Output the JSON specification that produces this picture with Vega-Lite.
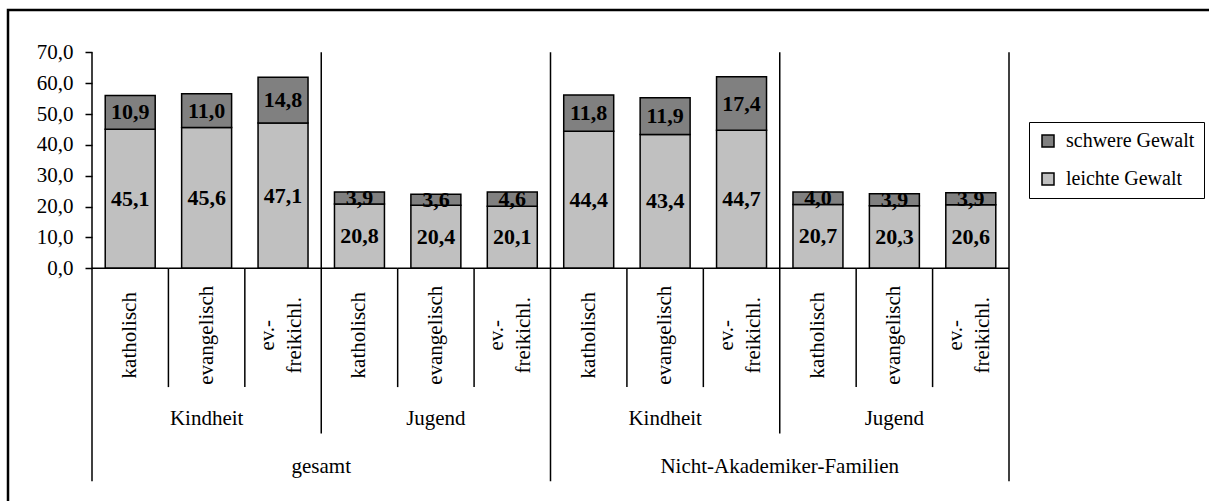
{
  "$schema": "https://vega.github.io/schema/vega-lite/v6.json",
  "width": 1203,
  "height": 493,
  "autosize": {"type": "none"},
  "padding": {"left": 8, "top": 10, "right": -2, "bottom": -2},
  "background": "white",
  "config": {
    "locale": {"number": {"decimal": ",", "thousands": ".", "grouping": [3], "currency": ["", " €"]}},
    "view": {"stroke": "black", "strokeWidth": 2.5},
    "font": "Liberation Serif",
    "text": {"font": "Liberation Serif", "color": "black"}
  },
  "datasets": {
    "bars": [
      {"cat": "1", "type": "leichte Gewalt", "value": 45.1},
      {"cat": "1", "type": "schwere Gewalt", "value": 10.9},
      {"cat": "2", "type": "leichte Gewalt", "value": 45.6},
      {"cat": "2", "type": "schwere Gewalt", "value": 11.0},
      {"cat": "3", "type": "leichte Gewalt", "value": 47.1},
      {"cat": "3", "type": "schwere Gewalt", "value": 14.8},
      {"cat": "4", "type": "leichte Gewalt", "value": 20.8},
      {"cat": "4", "type": "schwere Gewalt", "value": 3.9},
      {"cat": "5", "type": "leichte Gewalt", "value": 20.4},
      {"cat": "5", "type": "schwere Gewalt", "value": 3.6},
      {"cat": "6", "type": "leichte Gewalt", "value": 20.1},
      {"cat": "6", "type": "schwere Gewalt", "value": 4.6},
      {"cat": "7", "type": "leichte Gewalt", "value": 44.4},
      {"cat": "7", "type": "schwere Gewalt", "value": 11.8},
      {"cat": "8", "type": "leichte Gewalt", "value": 43.4},
      {"cat": "8", "type": "schwere Gewalt", "value": 11.9},
      {"cat": "9", "type": "leichte Gewalt", "value": 44.7},
      {"cat": "9", "type": "schwere Gewalt", "value": 17.4},
      {"cat": "10", "type": "leichte Gewalt", "value": 20.7},
      {"cat": "10", "type": "schwere Gewalt", "value": 4.0},
      {"cat": "11", "type": "leichte Gewalt", "value": 20.3},
      {"cat": "11", "type": "schwere Gewalt", "value": 3.9},
      {"cat": "12", "type": "leichte Gewalt", "value": 20.6},
      {"cat": "12", "type": "schwere Gewalt", "value": 3.9}
    ],
    "cats1": [
      {"cat": "1", "label": "katholisch"},
      {"cat": "2", "label": "evangelisch"},
      {"cat": "4", "label": "katholisch"},
      {"cat": "5", "label": "evangelisch"},
      {"cat": "7", "label": "katholisch"},
      {"cat": "8", "label": "evangelisch"},
      {"cat": "10", "label": "katholisch"},
      {"cat": "11", "label": "evangelisch"}
    ],
    "cats2": [
      {"cat": "3", "label": "ev.-\nfreikichl."},
      {"cat": "6", "label": "ev.-\nfreikichl."},
      {"cat": "9", "label": "ev.-\nfreikichl."},
      {"cat": "12", "label": "ev.-\nfreikichl."}
    ],
    "allcats": [
      {"cat": "1"},{"cat": "2"},{"cat": "3"},{"cat": "4"},{"cat": "5"},{"cat": "6"},
      {"cat": "7"},{"cat": "8"},{"cat": "9"},{"cat": "10"},{"cat": "11"},{"cat": "12"}
    ]
  },
  "layer": [
    {
      "data": {"name": "bars"},
      "mark": {"type": "bar", "stroke": "black", "strokeWidth": 1.5, "width": {"band": 0.654}},
      "encoding": {
        "x": {
          "field": "cat", "type": "nominal", "axis": null,
          "scale": {"type": "band", "domain": ["1","2","3","4","5","6","7","8","9","10","11","12"], "paddingInner": 0, "paddingOuter": 0, "range": [84, 1001], "round": false}
        },
        "y": {
          "field": "value", "type": "quantitative", "stack": "zero",
          "scale": {"domain": [-76.06, 83.71], "nice": false, "zero": false},
          "axis": {
            "values": [0,10,20,30,40,50,60,70], "format": ".1f", "domain": false, "grid": false, "offset": -84,
            "tickSize": 7, "tickColor": "black", "tickWidth": 1.5,
            "labelFont": "Liberation Serif", "labelFontSize": 21, "labelColor": "black", "labelPadding": 12, "title": null
          }
        },
        "color": {
          "field": "type", "type": "nominal",
          "scale": {"domain": ["schwere Gewalt", "leichte Gewalt"], "range": ["#808080", "#c0c0c0"]},
          "legend": {"title": null, "orient": "none", "legendX": 1021, "legendY": 112, "direction": "vertical", "strokeColor": "black", "fillColor": "white", "padding": 9, "symbolType": "square", "symbolSize": 144, "symbolStrokeColor": "black", "symbolStrokeWidth": 1.5, "symbolOpacity": 1, "labelFont": "Liberation Serif", "labelFontSize": 20, "labelColor": "black", "labelOffset": 8, "rowPadding": 18}
        },
        "order": {"field": "type", "sort": "ascending"}
      }
    },
    {
      "data": {"name": "bars"},
      "mark": {"type": "text", "fontWeight": "bold", "fontSize": 22, "baseline": "middle", "align": "center"},
      "encoding": {
        "x": {"field": "cat", "type": "nominal", "axis": null},
        "y": {"field": "value", "type": "quantitative", "stack": "zero", "bandPosition": 0.5},
        "detail": {"field": "type", "type": "nominal"},
        "order": {"field": "type", "sort": "ascending"},
        "text": {"field": "value", "type": "quantitative", "format": ".1f"}
      }
    },
    {
      "data": {"name": "allcats"},
      "mark": {"type": "rect", "fill": null, "fillOpacity": 0, "stroke": "black", "strokeWidth": 1.5},
      "encoding": {
        "x": {"field": "cat", "type": "nominal", "axis": null},
        "y": {"datum": 0, "type": "quantitative"},
        "y2": {"datum": 0}
      }
    },
    {
      "data": {"values": [{"cat": "2"},{"cat": "3"},{"cat": "5"},{"cat": "6"},{"cat": "8"},{"cat": "9"},{"cat": "11"},{"cat": "12"}]},
      "mark": {"type": "rule", "color": "black", "strokeWidth": 1.5},
      "encoding": {
        "x": {"field": "cat", "type": "nominal", "bandPosition": 0, "axis": null},
        "y": {"datum": 0, "type": "quantitative"},
        "y2": {"datum": -38.5}
      }
    },
    {
      "data": {"values": [{"cat": "4"},{"cat": "10"}]},
      "mark": {"type": "rule", "color": "black", "strokeWidth": 1.5},
      "encoding": {
        "x": {"field": "cat", "type": "nominal", "bandPosition": 0, "axis": null},
        "y": {"datum": 70, "type": "quantitative"},
        "y2": {"datum": -53.5}
      }
    },
    {
      "data": {"values": [{"cat": "1"},{"cat": "7"}]},
      "mark": {"type": "rule", "color": "black", "strokeWidth": 1.5},
      "encoding": {
        "x": {"field": "cat", "type": "nominal", "bandPosition": 0, "axis": null},
        "y": {"datum": 70, "type": "quantitative"},
        "y2": {"datum": -69}
      }
    },
    {
      "data": {"values": [{"cat": "12"}]},
      "mark": {"type": "rule", "color": "black", "strokeWidth": 1.5},
      "encoding": {
        "x": {"field": "cat", "type": "nominal", "bandPosition": 1, "axis": null},
        "y": {"datum": 70, "type": "quantitative"},
        "y2": {"datum": -69}
      }
    },
    {
      "data": {"name": "cats1"},
      "mark": {"type": "text", "angle": 270, "baseline": "middle", "align": "center", "fontSize": 21},
      "encoding": {
        "x": {"field": "cat", "type": "nominal", "axis": null},
        "y": {"datum": -21.7, "type": "quantitative"},
        "text": {"field": "label", "type": "nominal"}
      }
    },
    {
      "data": {"name": "cats2"},
      "mark": {"type": "text", "angle": 270, "baseline": "middle", "align": "center", "fontSize": 21, "lineBreak": "\n", "lineHeight": 27, "dy": -15},
      "encoding": {
        "x": {"field": "cat", "type": "nominal", "axis": null},
        "y": {"datum": -21.7, "type": "quantitative"},
        "text": {"field": "label", "type": "nominal"}
      }
    },
    {
      "data": {"values": [{"cat": "2", "label": "Kindheit"},{"cat": "5", "label": "Jugend"},{"cat": "8", "label": "Kindheit"},{"cat": "11", "label": "Jugend"}]},
      "mark": {"type": "text", "baseline": "middle", "align": "center", "fontSize": 21},
      "encoding": {
        "x": {"field": "cat", "type": "nominal", "axis": null},
        "y": {"datum": -48.8, "type": "quantitative"},
        "text": {"field": "label", "type": "nominal"}
      }
    },
    {
      "data": {"values": [{"cat": "4", "label": "gesamt"},{"cat": "10", "label": "Nicht-Akademiker-Familien"}]},
      "mark": {"type": "text", "baseline": "middle", "align": "center", "fontSize": 21},
      "encoding": {
        "x": {"field": "cat", "type": "nominal", "bandPosition": 0, "axis": null},
        "y": {"datum": -64.4, "type": "quantitative"},
        "text": {"field": "label", "type": "nominal"}
      }
    }
  ]
}
